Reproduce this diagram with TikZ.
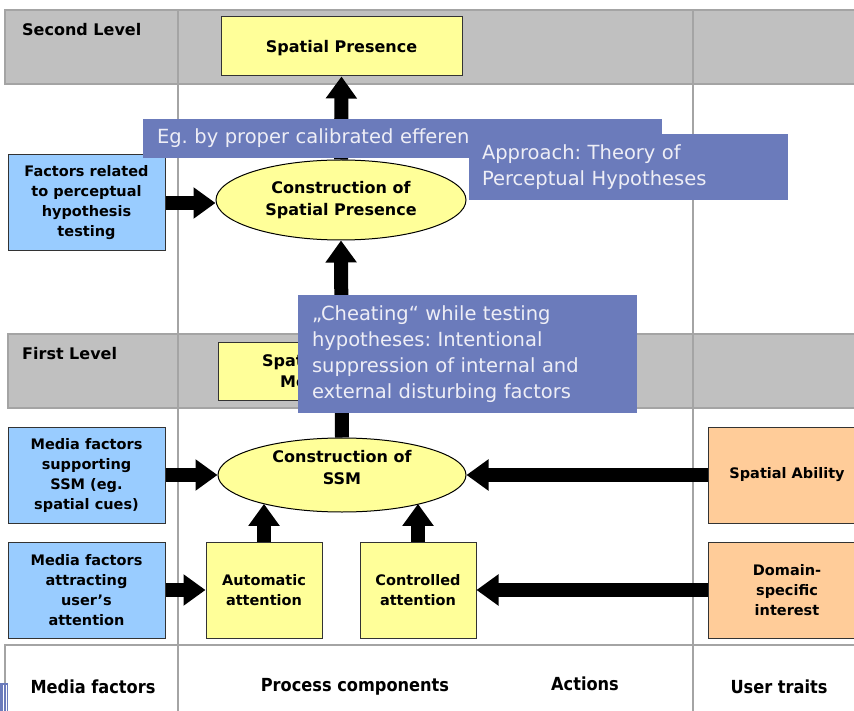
\documentclass[tikz,border=0pt]{standalone}
\usepackage{fontspec}
\setmainfont{DejaVu Sans}
\newfontfamily\condfont{DejaVu Sans Condensed}
\usetikzlibrary{shapes.geometric,arrows.meta}
\frenchspacing
\definecolor{band}{HTML}{C0C0C0}
\definecolor{bandline}{HTML}{A4A4A4}
\definecolor{ylw}{HTML}{FFFF99}
\definecolor{blu}{HTML}{99CCFF}
\definecolor{org}{HTML}{FFCC99}
\definecolor{callout}{HTML}{6B7BBB}
\definecolor{callouttext}{HTML}{EEEEF6}
\tikzset{
  boxtext/.style={font=\bfseries\fontsize{14.5}{20}\selectfont, align=center},
  bigtext/.style={font=\bfseries\fontsize{16}{22}\selectfont, align=center},
  box/.style={boxtext, draw=black!80, line width=1pt, inner sep=0pt},
  ybox/.style={box, fill=ylw},
  bbox/.style={box, fill=blu},
  obox/.style={box, fill=org},
  ell/.style={bigtext, ellipse, draw=black, line width=1pt, fill=ylw, inner sep=0pt},
  bigarrow/.style={line width=14pt, -{Triangle[length=22pt,width=30pt]}},
  calloutbox/.style={fill=callout, draw=none, inner sep=0pt, text=callouttext,
    font=\fontsize{19.5}{26}\selectfont\frenchspacing, align=left},
  bandlbl/.style={font=\bfseries\fontsize{16}{18}\selectfont, anchor=west, inner sep=0pt},
  collbl/.style={font=\condfont\bfseries\fontsize{18}{20}\selectfont},
  gridline/.style={draw=bandline, line width=1.3pt}
}
\begin{document}
\begin{tikzpicture}[x=1pt,y=-1pt]
\useasboundingbox (0,0) rectangle (854,711);
\clip (0,0) rectangle (854,711);
% bands
\fill[white] (0,0) rectangle (854,711);
\draw[gridline, fill=band] (5,10) rectangle (870,84);
\draw[gridline, fill=band] (8,334) rectangle (870,408);
\draw[gridline] (178,10) -- (178,711);
\draw[gridline] (693,10) -- (693,711);
\draw[gridline] (5,711) -- (5,645) -- (870,645);
\node[bandlbl] (lvl2) at (22,30) {Second Level};
\node[bandlbl] (lvl1) at (22,354) {First Level};
% column labels
\node[collbl] (colmedia) at (93,687) {Media factors};
\node[collbl] (colproc) at (355,687) {Process components};
\node[collbl] (colact) at (585,684) {Actions};
\node[collbl] (coluser) at (779,687) {User traits};
% small blue fragment bottom left
\fill[callout] (0,683) rectangle (8,711);
\draw[white, line width=0.6pt] (3,685) -- (3,711) (6,685) -- (6,711);
% nodes
\node[ybox, minimum width=241pt, minimum height=59pt] (sp) at (341.5,46.5) {};
\node[bigtext] (sptxt) at (341.5,48) {Spatial Presence};
\node[ell, minimum width=250pt, minimum height=80pt] (csp) at (341,200) {Construction of\\Spatial Presence};
\node[bbox, minimum width=157pt, minimum height=96pt] (fac) at (86.5,203) {Factors related\\to perceptual\\hypothesis\\testing};
\node[ybox, minimum width=244pt, minimum height=58pt] (ssmbox) at (340,371) {};
\begin{scope}
\clip (218,342) rectangle (298,400);
\node[bigtext, anchor=west, inner sep=0pt] (ssmt1) at (262,362) {Spat};
\node[bigtext, anchor=west, inner sep=0pt] (ssmt2) at (280,382) {Mo};
\end{scope}
\node[ell, minimum width=248pt, minimum height=74pt] (cssm) at (342,475) {};
\node[bigtext] (cssmtxt) at (342,468) {Construction of\\SSM};
\node[bbox, minimum width=157pt, minimum height=96pt] (mfs) at (86.5,475) {Media factors\\supporting\\SSM (eg.\\spatial cues)};
\node[bbox, minimum width=157pt, minimum height=96pt] (mfa) at (86.5,590) {Media factors\\attracting\\user's\\attention};
\node[ybox, minimum width=116pt, minimum height=96pt] (auto) at (264,590) {Automatic\\attention};
\node[ybox, minimum width=116pt, minimum height=96pt] (ctl) at (418,590) {Controlled\\attention};
\node[obox, minimum width=158pt, minimum height=96pt] (sa) at (787,475) {Spatial Ability};
\node[obox, minimum width=158pt, minimum height=96pt] (dsi) at (787,590) {Domain-\\specific\\interest};
% arrows
\draw[bigarrow] (csp.north) -- (sp.south);
\draw[bigarrow] (fac.east) -- (fac.east -| csp.west);
\draw[bigarrow] (cssm.north) -- (csp.south);
\draw[bigarrow] (mfs.east) -- (mfs.east -| cssm.west);
\draw[bigarrow] (mfa.east) -- (auto.west);
\draw[bigarrow] (auto.north) -- (auto.north |- cssm.200);
\draw[bigarrow] (ctl.north) -- (ctl.north |- cssm.340);
\draw[bigarrow] (sa.west) -- (sa.west -| cssm.east);
\draw[bigarrow] (dsi.west) -- (ctl.east);
% callouts
\node[calloutbox, minimum width=519pt, minimum height=39pt, text width=491pt] (c1) at (402.5,138.5) {Eg. by proper calibrated efferen};
\node[calloutbox, minimum width=319pt, minimum height=66pt, text width=293pt] (c2) at (628.5,167) {Approach: Theory of\\Perceptual Hypotheses};
\node[calloutbox, minimum width=339pt, minimum height=118pt, text width=311pt] (c3) at (467.5,354) {„Cheating“ while testing\\hypotheses: Intentional\\suppression of internal and\\external disturbing factors};
\end{tikzpicture}
\end{document}
